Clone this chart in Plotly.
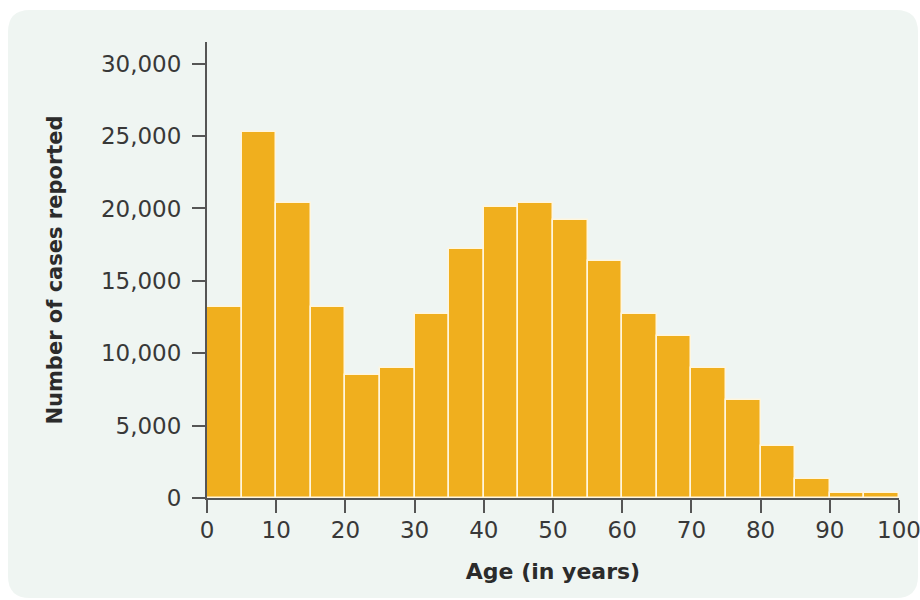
import plotly.graph_objects as go

# Reported cases by age group (5-year bins)
bin_starts = [0, 5, 10, 15, 20, 25, 30, 35, 40, 45,
              50, 55, 60, 65, 70, 75, 80, 85, 90, 95]
bin_width = 5
cases = [13200, 25300, 20400, 13200, 8500, 9000, 12700, 17200, 20100, 20400,
         19200, 16400, 12700, 11200, 9000, 6800, 3600, 1300, 350, 350]

x_ticks = [0, 10, 20, 30, 40, 50, 60, 70, 80, 90, 100]
y_ticks = [0, 5000, 10000, 15000, 20000, 25000, 30000]
y_tick_text = ["0", "5,000", "10,000", "15,000", "20,000", "25,000", "30,000"]

W, H = 920, 600
ML, MR, MT, MB = 207, 21, 42, 102
PW, PH = W - ML - MR, H - MT - MB

BAR_COLOR = "#F0AF1E"
PANEL_COLOR = "#EFF5F2"
AXIS_COLOR = "#555555"
TEXT_COLOR = "#383838"


def px_to_paper(px, py):
    return (px - ML) / PW, (H - MB - py) / PH


def rounded_rect_path(x0, y0, x1, y1, r):
    def P(x, y):
        a, b = px_to_paper(x, y)
        return f"{a:.5f},{b:.5f}"
    return " ".join([
        f"M {P(x0 + r, y0)}",
        f"L {P(x1 - r, y0)}",
        f"Q {P(x1, y0)} {P(x1, y0 + r)}",
        f"L {P(x1, y1 - r)}",
        f"Q {P(x1, y1)} {P(x1 - r, y1)}",
        f"L {P(x0 + r, y1)}",
        f"Q {P(x0, y1)} {P(x0, y1 - r)}",
        f"L {P(x0, y0 + r)}",
        f"Q {P(x0, y0)} {P(x0 + r, y0)} Z",
    ])


fig = go.Figure()
fig.add_trace(go.Bar(
    x=[s + bin_width / 2 for s in bin_starts],
    y=cases,
    width=bin_width,
    marker=dict(color=BAR_COLOR, line=dict(color="#FFF6DE", width=1.5)),
    hoverinfo="x+y",
))

fig.add_shape(
    type="path",
    xref="paper", yref="paper",
    path=rounded_rect_path(8, 10, 918, 598, 22),
    fillcolor=PANEL_COLOR,
    line=dict(width=0),
    layer="below",
)

fig.update_layout(
    width=W, height=H,
    margin=dict(l=ML, r=MR, t=MT, b=MB, autoexpand=False),
    paper_bgcolor="white",
    plot_bgcolor="rgba(0,0,0,0)",
    showlegend=False,
    bargap=0,
    font=dict(family="DejaVu Sans", color=TEXT_COLOR),
)

fig.update_xaxes(
    range=[0, 100],
    tickvals=x_ticks,
    ticks="outside", ticklen=13, tickwidth=2, tickcolor=AXIS_COLOR,
    showline=True, linecolor=AXIS_COLOR, linewidth=2,
    showgrid=False, zeroline=False,
    automargin=False,
    ticklabeloverflow="allow",
    tickfont=dict(size=23, color=TEXT_COLOR),
    ticklabelstandoff=-3,
    title=dict(text="<b>Age (in years)</b>", font=dict(size=22, color="#2b2b2b"), standoff=22),
)

fig.update_yaxes(
    range=[0, 31500],
    tickvals=y_ticks, ticktext=y_tick_text,
    ticks="outside", ticklen=13, tickwidth=2, tickcolor=AXIS_COLOR,
    showline=True, linecolor=AXIS_COLOR, linewidth=2,
    showgrid=False, zeroline=False,
    automargin=False,
    tickfont=dict(size=23, color=TEXT_COLOR),
    ticklabelstandoff=6,
    title=dict(text="<b>Number of cases reported</b>", font=dict(size=21, color="#2b2b2b"), standoff=33),
)

fig.write_html("out.html")
